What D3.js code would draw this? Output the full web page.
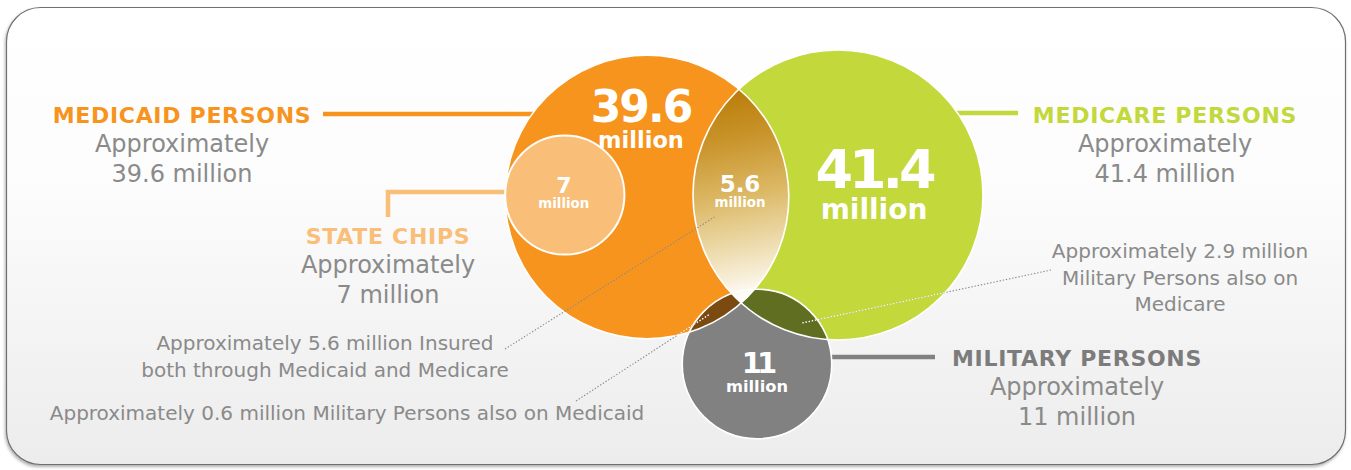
<!DOCTYPE html>
<html>
<head>
<meta charset="utf-8">
<script src="https://cdn.jsdelivr.net/npm/d3@7"></script>
<style>
  html, body { margin: 0; padding: 0; background: #fff; }
  svg { display: block; font-family: "DejaVu Sans", Verdana, sans-serif; }
</style>
</head>
<body>
<div id="chart"></div>
<script>
(function() {

  let width  = 1351,
      height = 470;

  // the sets (one circle each)
  const setKeys   = ["medicaid", "medicare", "military", "chips"];
  const setTitles = ["MEDICAID PERSONS", "MEDICARE PERSONS", "MILITARY PERSONS", "STATE CHIPS"];
  const setValues = [39.6, 41.4, 11, 7];

  // overlaps between two sets
  const overlapPairs  = [["medicaid", "medicare"], ["medicaid", "military"], ["medicare", "military"]];
  const overlapValues = [5.6, 0.6, 2.9];
  const overlapTails  = [
    [" Insured", "both through Medicaid and Medicare"],
    [" Military Persons also on Medicaid"],
    ["", "Military Persons also on", "Medicare"]
  ];

  // where things go (layout only, no values in here)
  let layout = {
    medicaid: { cx: 647, cy: 197, fill: "#F7941D", text: "#F7941D",
                at: [182, 123], link: { y: 114, x: 323 },
                num: { dx: -6, y: 122, size: 44, ls: -2 }, unit: { y: 148, size: 22.5 } },
    medicare: { cx: 838, cy: 195, fill: "#C2D83B", text: "#C2D83B",
                at: [1165, 123], link: { y: 113, x: 1018 },
                num: { dx: 36, y: 188, size: 54, ls: -4 }, unit: { y: 219, size: 28 } },
    military: { cx: 757, cy: 364, fill: "#818181", text: "#7C7C7C",
                at: [1077, 366], link: { y: 357, x: 935 },
                num: { dx: 0, y: 373, size: 29, ls: -5 }, unit: { y: 392, size: 16.3 } },
    chips:    { cx: null, cy: 195, fill: "#F9BE78", text: "#F9BE78",
                at: [388, 244], link: { y: 192, x: 388, y0: 217 },
                num: { dx: -1, y: 193, size: 22, ls: 0 }, unit: { y: 208, size: 13.4 } }
  };

  let lensLayout = {
    "medicaid-medicare": { fill: "url(#lens-grad)", num: [740, 192, 23], unit: [740, 207, 13.4],
                           note: { x: 325, y: 350, from: [505, 349], to: [716, 216] } },
    "medicaid-military": { fill: "#7A4A10",
                           note: { x: 347, y: 420, from: [576, 401], to: [710, 314], white: true } },
    "medicare-military": { fill: "#5F6E20",
                           note: { x: 1180, y: 258, from: [1051, 270], to: [802, 323], white: true } }
  };

  let grey = "#8A8A8A";

  // area scale for the circles
  let radiusScale = d3.scaleSqrt()
      .domain ([0, 41.4])
      .range  ([0, 145]);

  let sets = setKeys.map((k, i) => Object.assign({
    key: k, title: setTitles[i], value: setValues[i], r: radiusScale(setValues[i])
  }, layout[k]));
  let byKey = {};
  sets.forEach(d => byKey[d.key] = d);

  // chips circle sits on the inner left edge of medicaid
  byKey.chips.cx = byKey.medicaid.cx - byKey.medicaid.r + byKey.chips.r;

  let overlaps = overlapPairs.map((p, i) => Object.assign({
    a: byKey[p[0]], b: byKey[p[1]], value: overlapValues[i], tail: overlapTails[i]
  }, lensLayout[p.join("-")]));

  // two points where circles a and b cross
  function crossings(a, b) {
    let dx = b.cx - a.cx, dy = b.cy - a.cy;
    let d  = Math.sqrt(dx * dx + dy * dy);
    let l  = (a.r * a.r - b.r * b.r + d * d) / (2 * d);
    let h  = Math.sqrt(a.r * a.r - l * l);
    let mx = a.cx + dx * l / d, my = a.cy + dy * l / d;
    return [[mx + h * dy / d, my - h * dx / d], [mx - h * dy / d, my + h * dx / d]]
      .sort((p, q) => p[1] - q[1]);
  }

  // svg
  let svg = d3.select("#chart")
    .append ("svg")
    .attr   ("width", width)
    .attr   ("height", height);

  let defs = svg.append("defs");

  let bg = defs.append("linearGradient")
    .attr ("id", "bg-grad")
    .attr ("x1", 0).attr("y1", 0).attr("x2", 0).attr("y2", 1);
  bg.append("stop").attr("offset", 0).attr("stop-color", "#ffffff");
  bg.append("stop").attr("offset", 0.4).attr("stop-color", "#fcfcfc");
  bg.append("stop").attr("offset", 1).attr("stop-color", "#ececec");

  // lens gradient runs from the top crossing to the bottom one
  let tips = crossings(byKey.medicaid, byKey.medicare);
  let lens = defs.append("linearGradient")
    .attr ("id", "lens-grad")
    .attr ("gradientUnits", "userSpaceOnUse")
    .attr ("x1", tips[0][0] - 25).attr("y1", tips[0][1])
    .attr ("x2", tips[1][0] + 15).attr("y2", tips[1][1]);
  [[0, "#B97A06"], [0.25, "#C9952C"], [0.5, "#DCB865"], [0.72, "#ECD9A8"], [0.88, "#F8F0DC"], [0.97, "#ffffff"]]
    .forEach(s => lens.append("stop").attr("offset", s[0]).attr("stop-color", s[1]));

  let shadow = defs.append("filter")
    .attr ("id", "frame-shadow")
    .attr ("x", -0.05).attr("y", -0.05).attr("width", 1.1).attr("height", 1.1);
  shadow.append("feDropShadow")
    .attr ("dx", -1).attr("dy", 2).attr("stdDeviation", 1.5)
    .attr ("flood-color", "#000").attr("flood-opacity", 0.3);

  // one clip per circle
  defs.selectAll(".set-clip")
    .data  (sets)
    .enter ().append("clipPath")
    .attr  ("class", "set-clip")
    .attr  ("id", d => "clip-" + d.key)
    .append("circle")
    .attr  ("cx", d => d.cx)
    .attr  ("cy", d => d.cy)
    .attr  ("r", d => d.r);

  // union of the three big circles, for white dots
  let unionClip = defs.append("clipPath").attr("id", "clip-union");
  sets.filter(d => d.key !== "chips").forEach(d => {
    unionClip.append("circle").attr("cx", d.cx).attr("cy", d.cy).attr("r", d.r);
  });

  // frame
  svg.append("rect")
    .attr ("x", 6.5).attr("y", 7.5)
    .attr ("width", 1339).attr("height", 457)
    .attr ("rx", 34).attr("ry", 34)
    .attr ("fill", "url(#bg-grad)")
    .attr ("stroke", "#6f6f6f")
    .attr ("stroke-width", 1.2)
    .attr ("filter", "url(#frame-shadow)");

  let big = sets.filter(d => d.key !== "chips");

  // connector lines (drawn under the circles)
  let links = svg.append("g")
    .attr ("fill", "none")
    .attr ("stroke-width", 4.5);

  sets.forEach(d => {
    let dy   = d.link.y - d.cy;
    let half = Math.sqrt(Math.max(0, d.r * d.r - dy * dy));
    let edge = d.link.x < d.cx ? d.cx - half + 2 : d.cx + half - 2;
    let path = d.key === "chips"
      ? `M${d.link.x},${d.link.y0}V${d.link.y}H${edge}`
      : `M${d.link.x},${d.link.y}H${edge}`;
    links.append("path")
      .attr ("d", path)
      .attr ("stroke", d.fill);
  });

  // base circles
  svg.selectAll(".set")
    .data  (big)
    .enter ().append("circle")
    .attr  ("class", "set")
    .attr  ("cx", d => d.cx)
    .attr  ("cy", d => d.cy)
    .attr  ("r", d => d.r)
    .attr  ("fill", d => d.fill);

  // overlaps: circle a clipped by circle b (the big lens last so it covers the middle)
  overlaps.slice().reverse().forEach(o => {
    svg.append("g")
      .attr   ("clip-path", `url(#clip-${o.b.key})`)
      .append ("circle")
      .attr   ("cx", o.a.cx)
      .attr   ("cy", o.a.cy)
      .attr   ("r", o.a.r)
      .attr   ("fill", o.fill);
  });

  // white edges
  svg.selectAll(".edge")
    .data  (big)
    .enter ().append("circle")
    .attr  ("class", "edge")
    .attr  ("cx", d => d.cx)
    .attr  ("cy", d => d.cy)
    .attr  ("r", d => d.r)
    .attr  ("fill", "none")
    .attr  ("stroke", "#fff")
    .attr  ("stroke-width", 1.6);

  // chips circle
  let chips = byKey.chips;
  svg.append("circle")
    .attr ("cx", chips.cx)
    .attr ("cy", chips.cy)
    .attr ("r", chips.r)
    .attr ("fill", chips.fill)
    .attr ("stroke", "#fff")
    .attr ("stroke-width", 2);

  // dotted pointers
  let dots = svg.append("g").attr("fill", "none");
  overlaps.forEach(o => {
    let n = o.note;
    dots.append("line")
      .attr ("x1", n.from[0]).attr("y1", n.from[1])
      .attr ("x2", n.to[0]).attr("y2", n.to[1])
      .attr ("stroke", grey)
      .attr ("stroke-width", 1.1)
      .attr ("stroke-dasharray", "1.4,1.8");
    if (n.white) {
      dots.append("line")
        .attr ("clip-path", "url(#clip-union)")
        .attr ("x1", n.from[0]).attr("y1", n.from[1])
        .attr ("x2", n.to[0]).attr("y2", n.to[1])
        .attr ("stroke", "#fff")
        .attr ("stroke-width", 1.3)
        .attr ("stroke-dasharray", "1.4,1.8");
    }
  });

  // numbers inside circles
  let inner = svg.append("g")
    .attr ("fill", "#fff")
    .attr ("font-weight", "bold")
    .attr ("text-anchor", "middle");

  sets.forEach(d => {
    inner.append("text")
      .attr  ("x", d.cx + d.num.dx)
      .attr  ("y", d.num.y)
      .attr  ("font-size", d.num.size)
      .attr  ("letter-spacing", d.num.ls)
      .text  (d.value);
    inner.append("text")
      .attr  ("x", d.cx + d.num.dx)
      .attr  ("y", d.unit.y)
      .attr  ("font-size", d.unit.size)
      .text  ("million");
  });

  overlaps.filter(o => o.num).forEach(o => {
    inner.append("text")
      .attr ("x", o.num[0]).attr("y", o.num[1])
      .attr ("font-size", o.num[2])
      .text (o.value);
    inner.append("text")
      .attr ("x", o.unit[0]).attr("y", o.unit[1])
      .attr ("font-size", o.unit[2])
      .text ("million");
  });

  // outside titles
  let labels = svg.append("g").attr("text-anchor", "middle");

  sets.forEach(d => {
    labels.append("text")
      .attr ("x", d.at[0]).attr("y", d.at[1])
      .attr ("fill", d.text)
      .attr ("font-size", 22)
      .attr ("font-weight", "bold")
      .attr ("letter-spacing", 0.7)
      .text (d.title);
    labels.append("text")
      .attr ("x", d.at[0]).attr("y", d.at[1] + 29)
      .attr ("fill", grey)
      .attr ("font-size", 24)
      .text ("Approximately");
    labels.append("text")
      .attr ("x", d.at[0]).attr("y", d.at[1] + 59)
      .attr ("fill", grey)
      .attr ("font-size", 24)
      .text (`${d.value} million`);
  });

  // overlap notes
  overlaps.forEach(o => {
    let lines = [`Approximately ${o.value} million${o.tail[0]}`].concat(o.tail.slice(1));
    let t = labels.append("text")
      .attr ("fill", grey)
      .attr ("font-size", 20);
    lines.forEach((s, i) => {
      t.append("tspan")
        .attr ("x", o.note.x)
        .attr ("y", o.note.y + i * 26.5)
        .text (s);
    });
  });

})();
</script>
</body>
</html>
